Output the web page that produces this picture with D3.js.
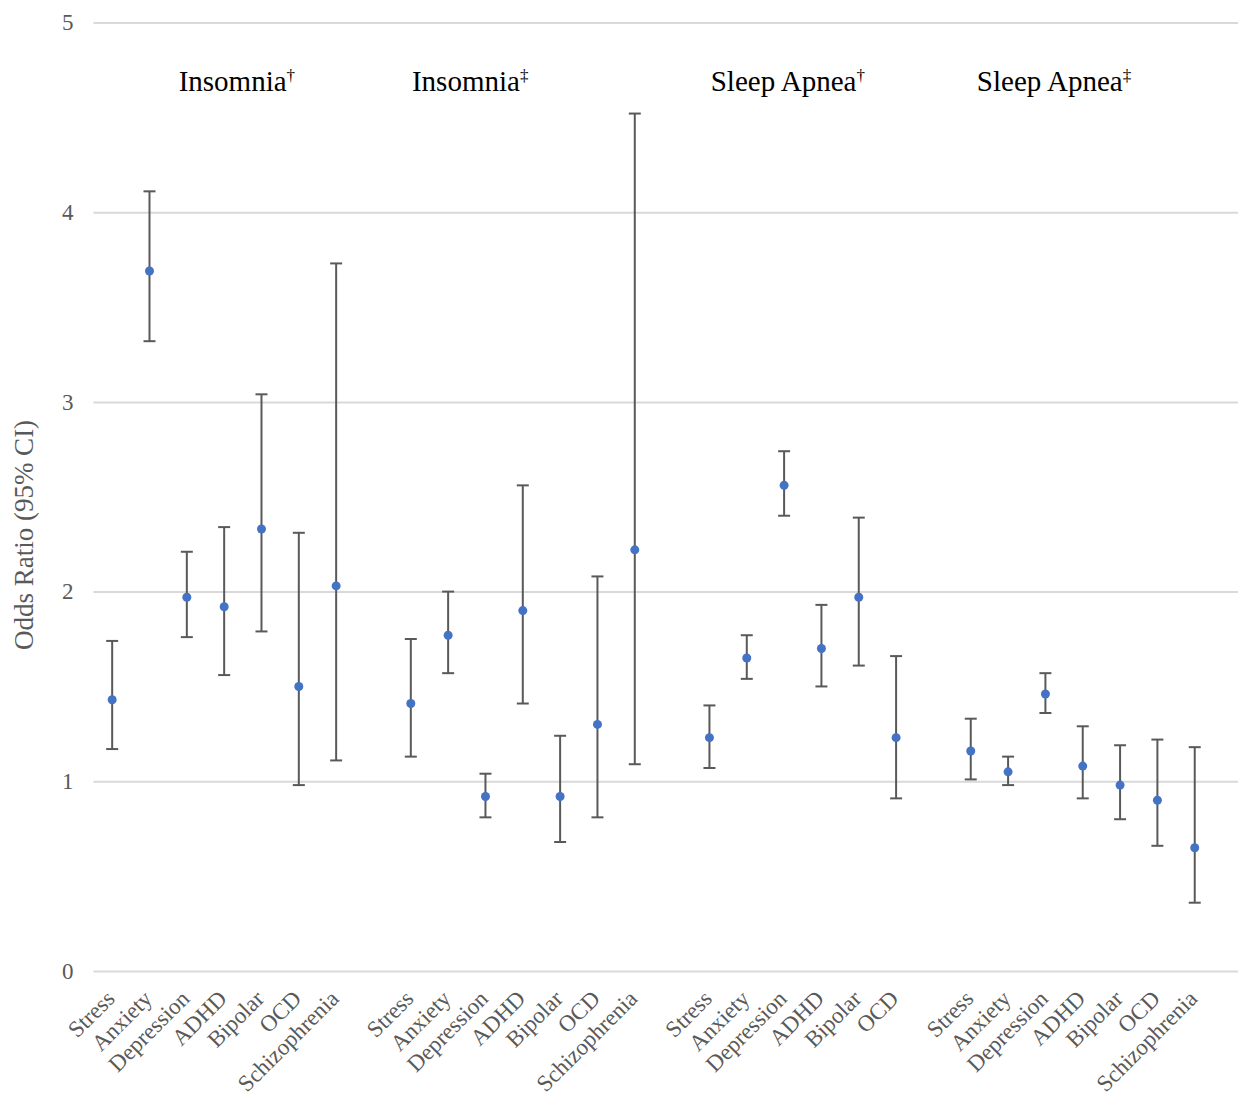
<!DOCTYPE html>
<html>
<head>
<meta charset="utf-8">
<script src="https://cdn.jsdelivr.net/npm/d3@7"></script>
<style>
  body { margin: 0; background: #fff; }
  svg text { font-family: "Liberation Serif", "Times New Roman", serif; }
</style>
</head>
<body>
<svg class="or-chart" width="1238" height="1096"></svg>
<script>
// group headers
var groupNames = ["Insomnia", "Insomnia", "Sleep Apnea", "Sleep Apnea"];
var groupMarks = ["\u2020", "\u2021", "\u2020", "\u2021"];
// where each header sits, in slot units (placed by hand in the original)
var groupTitleSlot = [3.34, 9.59, 18.1, 25.23];

var conditions = ["Stress", "Anxiety", "Depression", "ADHD", "Bipolar", "OCD", "Schizophrenia"];
var apneaConditions = ["Stress", "Anxiety", "Depression", "ADHD", "Bipolar", "OCD"];

// Insomnia (dagger)
var insomniaA_or = [1.43, 3.69, 1.97, 1.92, 2.33, 1.50, 2.03];
var insomniaA_lo = [1.17, 3.32, 1.76, 1.56, 1.79, 0.98, 1.11];
var insomniaA_hi = [1.74, 4.11, 2.21, 2.34, 3.04, 2.31, 3.73];

// Insomnia (double dagger)
var insomniaB_or = [1.41, 1.77, 0.92, 1.90, 0.92, 1.30, 2.22];
var insomniaB_lo = [1.13, 1.57, 0.81, 1.41, 0.68, 0.81, 1.09];
var insomniaB_hi = [1.75, 2.00, 1.04, 2.56, 1.24, 2.08, 4.52];

// Sleep apnea (dagger)
var apneaA_or = [1.23, 1.65, 2.56, 1.70, 1.97, 1.23];
var apneaA_lo = [1.07, 1.54, 2.40, 1.50, 1.61, 0.91];
var apneaA_hi = [1.40, 1.77, 2.74, 1.93, 2.39, 1.66];

// Sleep apnea (double dagger)
var apneaB_or = [1.16, 1.05, 1.46, 1.08, 0.98, 0.90, 0.65];
var apneaB_lo = [1.01, 0.98, 1.36, 0.91, 0.80, 0.66, 0.36];
var apneaB_hi = [1.33, 1.13, 1.57, 1.29, 1.19, 1.22, 1.18];

var yTicks = [0, 1, 2, 3, 4, 5];

var groups = [
    { labels: conditions, or: insomniaA_or, lo: insomniaA_lo, hi: insomniaA_hi },
    { labels: conditions, or: insomniaB_or, lo: insomniaB_lo, hi: insomniaB_hi },
    { labels: apneaConditions, or: apneaA_or, lo: apneaA_lo, hi: apneaA_hi },
    { labels: conditions, or: apneaB_or, lo: apneaB_lo, hi: apneaB_hi }
];

// flatten into slots, one empty slot between groups
var slots = [];
var points = [];
groups.forEach(function(g, gi) {
    g.labels.forEach(function(lab, i) {
        var key = "g" + gi + "-" + lab;
        slots.push(key);
        points.push({ key: key, label: lab, or: g.or[i], lo: g.lo[i], hi: g.hi[i] });
    });
    if (gi < groups.length - 1) slots.push("gap" + gi);
});

var svg = d3.select("svg.or-chart"),
    margin = { top: 22.5, right: 0, bottom: 125, left: 93.5 },
    W = +svg.attr("width");

var x = d3.scaleBand()
    .domain(slots)
    .range([margin.left, margin.left + slots.length * 37.33])
    .padding(0);

var y = d3.scaleLinear()
    .domain([0, 5])
    .range([971, margin.top]);

var step = x.step();
var cx = function(key) { return x(key) + x.bandwidth() / 2; };

// gridlines + y labels
var yAxis = d3.axisLeft(y)
    .tickValues(yTicks)
    .tickSize(-(W - margin.left))
    .tickPadding(20)
    .tickFormat(d3.format("d"));

var gy = svg.append("g")
    .attr("transform", "translate(" + margin.left + ",0)")
    .call(yAxis);
gy.select(".domain").remove();
gy.selectAll(".tick line").attr("stroke", "#d9d9d9").attr("stroke-width", 2);
gy.selectAll(".tick text")
    .attr("fill", "#595959")
    .style("font-size", "23px");

// y axis title
svg.append("text")
    .attr("transform", "translate(33,535) rotate(-90)")
    .attr("text-anchor", "middle")
    .attr("fill", "#595959")
    .style("font-size", "27px")
    .text("Odds Ratio (95% CI)");

// category labels
svg.append("g").selectAll("text")
    .data(points)
    .join("text")
    .attr("transform", function(d) {
        return "translate(" + (cx(d.key) + 4) + ",1000) rotate(-45)";
    })
    .attr("text-anchor", "end")
    .attr("fill", "#595959")
    .style("font-size", "23px")
    .text(function(d) { return d.label; });

// error bars
var bars = svg.append("g").selectAll("g")
    .data(points)
    .join("g")
    .attr("stroke", "#595959")
    .attr("stroke-width", 2);

bars.append("line")
    .attr("x1", function(d) { return cx(d.key); })
    .attr("x2", function(d) { return cx(d.key); })
    .attr("y1", function(d) { return y(d.lo); })
    .attr("y2", function(d) { return y(d.hi); });

bars.append("line")
    .attr("x1", function(d) { return cx(d.key) - 6; })
    .attr("x2", function(d) { return cx(d.key) + 6; })
    .attr("y1", function(d) { return y(d.hi); })
    .attr("y2", function(d) { return y(d.hi); });

bars.append("line")
    .attr("x1", function(d) { return cx(d.key) - 6; })
    .attr("x2", function(d) { return cx(d.key) + 6; })
    .attr("y1", function(d) { return y(d.lo); })
    .attr("y2", function(d) { return y(d.lo); });

// points
svg.append("g").selectAll("circle")
    .data(points)
    .join("circle")
    .attr("cx", function(d) { return cx(d.key); })
    .attr("cy", function(d) { return y(d.or); })
    .attr("r", 4.5)
    .attr("fill", "#4472c4");

// group titles
var titles = svg.append("g").selectAll("text")
    .data(groupNames)
    .join("text")
    .attr("x", function(d, i) { return margin.left + (groupTitleSlot[i] + 0.5) * step; })
    .attr("y", 91)
    .attr("text-anchor", "middle")
    .attr("fill", "#000")
    .style("font-size", "29px");

titles.append("tspan").text(function(d) { return d; });
titles.append("tspan")
    .attr("dy", -10)
    .style("font-size", "17px")
    .text(function(d, i) { return groupMarks[i]; });
</script>
</body>
</html>
